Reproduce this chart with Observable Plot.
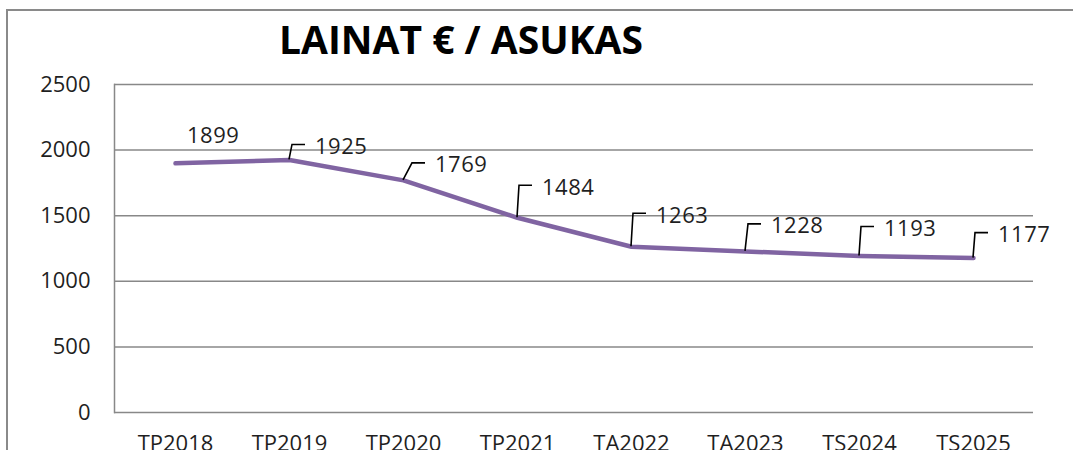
<!DOCTYPE html>
<html>
<head>
<meta charset="utf-8">
<script src="https://cdn.jsdelivr.net/npm/d3@7"></script>
<script src="https://cdn.jsdelivr.net/npm/@observablehq/plot@0.6"></script>
<style>
  body { margin: 0; background: #fff; }
  #wrap { position: relative; width: 1073px; height: 450px; overflow: hidden; font-family: "Open Sans", sans-serif; background: #fff; }
  #frame { position: absolute; left: 6px; top: 9px; width: 1200px; height: 600px; border: 2px solid #8a8a8a; box-sizing: border-box; }
  #title { position: absolute; left: 0; top: 19px; width: 922px; text-align: center; font-weight: 700; font-size: 39px; line-height: 1; color: #000; white-space: nowrap; }
  #chart { position: absolute; left: 0; top: 0; }
</style>
</head>
<body>
<div id="wrap">
  <div id="frame"></div>
  <div id="chart"></div>
  <div id="title">LAINAT € / ASUKAS</div>
</div>
<script>
// ---- data ----
const categories = ["TP2018", "TP2019", "TP2020", "TP2021", "TA2022", "TA2023", "TS2024", "TS2025"];
const values = [1899, 1925, 1769, 1484, 1263, 1228, 1193, 1177];
const yTicks = [0, 500, 1000, 1500, 2000, 2500];
const titleText = "LAINAT € / ASUKAS";

// ---- rendering ----
document.getElementById("title").textContent = titleText;
const data = categories.map((c, i) => ({cat: c, value: values[i]}));

const textColor = "#1f1f1f";
const gridColor = "#888888";
const lineColor = "#8064A2";

const chart = Plot.plot({
  width: 1073,
  height: 450,
  marginLeft: 114,
  marginRight: 40,
  marginTop: 84,
  marginBottom: 38,
  style: {fontFamily: "'Open Sans', sans-serif", fontSize: "22px", color: textColor, background: "transparent", overflow: "visible"},
  x: {type: "point", domain: categories, padding: 0.5, label: null},
  y: {domain: [0, 2500], label: null},
  marks: [
    Plot.gridY(yTicks, {stroke: gridColor, strokeOpacity: 1, strokeWidth: 1.5}),
    Plot.frame({anchor: "left", stroke: gridColor, strokeOpacity: 1, strokeWidth: 1.5}),
    Plot.axisY(yTicks, {tickSize: 0, tickPadding: 24, fill: textColor, label: null, fontSize: 22, tickFormat: d => String(d)}),
    Plot.axisX({tickSize: 0, tickPadding: 23, fill: textColor, label: null, fontSize: 22}),
    Plot.line(data, {x: "cat", y: "value", stroke: lineColor, strokeWidth: 4.5, strokeLinecap: "round", strokeLinejoin: "round"})
  ]
});
document.getElementById("chart").appendChild(chart);

// data labels with callout leaders, positioned via Plot's own scales
const sx = chart.scale("x");
const sy = chart.scale("y");
const labelRise = [28, 15, 17, 32, 33, 27, 29, 25];
const leaderSlant = [0, 3, 9, 2, 2, 3, 2, 2];
const svg = d3.select(chart);
const g = svg.append("g").attr("class", "data-labels").attr("text-anchor", "start");
data.forEach((d, i) => {
  const px = sx.apply(d.cat);
  const py = sy.apply(d.value);
  const topY = py - labelRise[i];
  if (i === 0) {
    g.append("text")
      .attr("x", px + 12).attr("y", topY).attr("dy", "0.36em")
      .attr("text-anchor", "start")
      .attr("fill", textColor).attr("font-size", 22).attr("letter-spacing", "0.5px")
      .text(d.value);
    return;
  }
  const kx = px + leaderSlant[i];
  g.append("path")
    .attr("d", `M${px},${py}L${kx},${topY}L${kx + 13},${topY}`)
    .attr("fill", "none").attr("stroke", "#000").attr("stroke-width", 1.6);
  g.append("text")
    .attr("x", kx + 23).attr("y", topY + 1.5).attr("dy", "0.36em")
    .attr("text-anchor", "start")
    .attr("fill", textColor).attr("font-size", 22).attr("letter-spacing", "0.5px")
    .text(d.value);
});
</script>
</body>
</html>
